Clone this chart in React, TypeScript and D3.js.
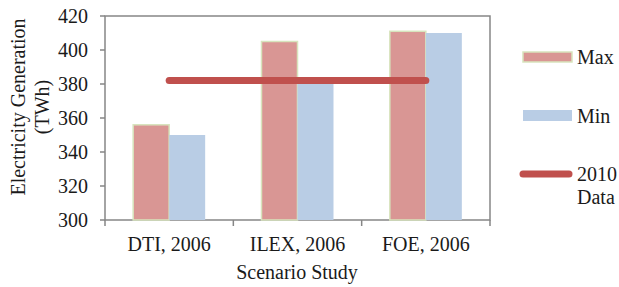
import React from "react";
import * as d3 from "d3";

const categories = ["DTI, 2006", "ILEX, 2006", "FOE, 2006"];
const maxValues = [356, 405, 411];
const minValues = [350, 380, 410];
const data2010 = 382;
const yTicks = [300, 320, 340, 360, 380, 400, 420];

const W = 619, H = 287;
const m = { left: 105, right: 490, top: 16, bottom: 220 };
const font = "'Liberation Serif', 'Times New Roman', serif";
const axisColor = "#868686";

export default function App() {
  const x = d3.scaleBand<string>().domain(categories).range([m.left, m.right]).paddingInner(0).paddingOuter(0);
  const y = d3.scaleLinear().domain([300, 420]).range([m.bottom, m.top]);
  const bw = 36;
  const center = (c: string) => (x(c) as number) + x.bandwidth() / 2;
  const lineGen = d3.line<number>().x((_, i) => center(categories[i])).y(d => y(d));
  const lineData = categories.map(() => data2010);
  return (
    <div style={{ position: "fixed", left: 0, top: 0, width: W, height: H, overflow: "hidden" }}>
      <svg width={W} height={H} style={{ display: "block", background: "#fff" }} fontFamily={font}>
        <rect x={m.left} y={m.top} width={m.right - m.left} height={m.bottom - m.top} fill="none" stroke={axisColor} strokeWidth={1.5} />
        {yTicks.map(t => (
          <g key={t}>
            <line x1={m.left - 5} x2={m.left} y1={y(t)} y2={y(t)} stroke={axisColor} strokeWidth={1.5} />
            <text x={88} y={y(t)} dy="0.35em" textAnchor="end" fontSize={20} fill="#1a1a1a">{t}</text>
          </g>
        ))}
        {d3.range(categories.length + 1).map(i => {
          const xx = m.left + i * x.step();
          return <line key={i} x1={xx} x2={xx} y1={m.bottom} y2={m.bottom + 6} stroke={axisColor} strokeWidth={1.5} />;
        })}
        {categories.map((c, i) => (
          <g key={c}>
            <rect x={center(c) - bw} y={y(maxValues[i])} width={bw} height={y(300) - y(maxValues[i])} fill="#D99694" stroke="#D7E4BD" strokeWidth={1.5} />
            <rect x={center(c)} y={y(minValues[i])} width={bw} height={y(300) - y(minValues[i])} fill="#B9CDE5" />
            <text x={center(c)} y={244} dy="0.35em" textAnchor="middle" fontSize={20} fill="#1a1a1a">{c}</text>
          </g>
        ))}
        <path d={lineGen(lineData) || ""} stroke="#C0504D" strokeWidth={7} strokeLinecap="round" fill="none" />
        <g transform="translate(18,107) rotate(-90)">
          <text textAnchor="middle" dy="0.35em" fontSize={20} fill="#1a1a1a">Electricity Generation</text>
        </g>
        <g transform="translate(42,107) rotate(-90)">
          <text textAnchor="middle" dy="0.35em" fontSize={20} fill="#1a1a1a">(TWh)</text>
        </g>
        <text x={297} y={272} dy="0.35em" textAnchor="middle" fontSize={20} fill="#1a1a1a">Scenario Study</text>
        <rect x={523} y={52} width={49} height={10} fill="#D99694" stroke="#D7E4BD" strokeWidth={1.5} />
        <text x={577} y={57} dy="0.35em" fontSize={20} fill="#1a1a1a">Max</text>
        <rect x={523} y={110} width={49} height={11} fill="#B9CDE5" />
        <text x={577} y={116} dy="0.35em" fontSize={20} fill="#1a1a1a">Min</text>
        <line x1={523} x2={569} y1={174} y2={174} stroke="#C0504D" strokeWidth={7} strokeLinecap="round" />
        <text x={577} y={174} dy="0.35em" fontSize={20} fill="#1a1a1a">2010</text>
        <text x={577} y={197} dy="0.35em" fontSize={20} fill="#1a1a1a">Data</text>
      </svg>
    </div>
  );
}
